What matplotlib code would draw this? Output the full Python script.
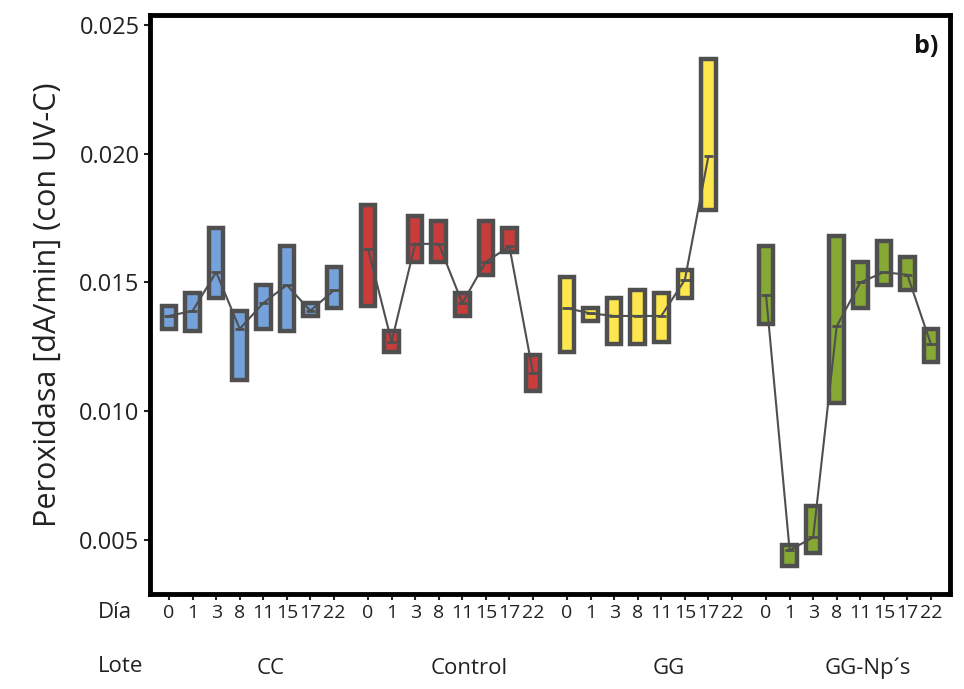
import numpy as np
import matplotlib.pyplot as plt

# Peroxidasa (con UV-C): cajas por lote y día de almacenamiento
dias = ['0', '1', '3', '8', '11', '15', '17', '22']
lotes = ['CC', 'Control', 'GG', 'GG-Np´s']
colores = ['#76a2dc', '#c83c3c', '#fde74c', '#86a834']

cc_q1 = [0.0132, 0.0131, 0.0144, 0.0112, 0.0132, 0.0131, 0.0137, 0.0140]
cc_q3 = [0.0141, 0.0146, 0.0171, 0.0139, 0.0149, 0.0164, 0.0142, 0.0156]
cc_media = [0.0137, 0.0139, 0.0154, 0.0132, 0.0142, 0.0149, 0.0139, 0.0147]

control_q1 = [0.0141, 0.0123, 0.0158, 0.0158, 0.0137, 0.0153, 0.0162, 0.0108]
control_q3 = [0.0180, 0.0131, 0.0176, 0.0174, 0.0146, 0.0174, 0.0171, 0.0122]
control_media = [0.0163, 0.0127, 0.0165, 0.0165, 0.0142, 0.0158, 0.0164, 0.0115]

gg_q1 = [0.0123, 0.0135, 0.0126, 0.0126, 0.0127, 0.0144, 0.0178, np.nan]
gg_q3 = [0.0152, 0.0140, 0.0144, 0.0147, 0.0146, 0.0155, 0.0237, np.nan]
gg_media = [0.0140, 0.0138, 0.0137, 0.0137, 0.0137, 0.0151, 0.0199, np.nan]

np_q1 = [0.0134, 0.0040, 0.0045, 0.0103, 0.0140, 0.0149, 0.0147, 0.0119]
np_q3 = [0.0164, 0.0048, 0.0063, 0.0168, 0.0158, 0.0166, 0.0160, 0.0132]
np_media = [0.0145, 0.0046, 0.0051, 0.0133, 0.0150, 0.0154, 0.0153, 0.0126]

q1s = [cc_q1, control_q1, gg_q1, np_q1]
q3s = [cc_q3, control_q3, gg_q3, np_q3]
medias = [cc_media, control_media, gg_media, np_media]

gris = '#4f4f4f'
texto = '#222222'
fuente = 'Open Sans'
separacion = 0.45

fig = plt.figure(figsize=(9.64, 6.89), dpi=100)
ax = fig.add_axes([150 / 964, 95 / 689, 800 / 964, 579 / 689])

todas_pos = []
for g, lote in enumerate(lotes):
    pos = g * (len(dias) + separacion) + np.arange(len(dias))
    todas_pos.extend(pos)
    q1 = np.array(q1s[g])
    q3 = np.array(q3s[g])
    ax.bar(pos, q3 - q1, bottom=q1, width=0.62, color=colores[g],
           edgecolor=gris, linewidth=3.2, zorder=2)
    ax.hlines(medias[g], pos - 0.2, pos + 0.2, color=gris, lw=2, zorder=3)
    ax.plot(pos, medias[g], color=gris, lw=1.5, zorder=3)

ax.set_xlim(-0.81, 33.16)
ax.set_ylim(0.0029, 0.02539)
ax.set_yticks([0.005, 0.010, 0.015, 0.020, 0.025])
ax.set_yticklabels(['0.005', '0.010', '0.015', '0.020', '0.025'],
                   fontsize=17, family=fuente, color=texto)
ax.set_xticks(todas_pos)
ax.set_xticklabels(dias * len(lotes), fontsize=14, family=fuente, color=texto)
ax.tick_params(axis='both', length=4, width=1.5, color=texto)
ax.tick_params(axis='x', pad=3)

for sp in ax.spines.values():
    sp.set_linewidth(3.5)
    sp.set_color('black')

ax.set_ylabel('Peroxidasa [dA/min] (con UV-C)', fontsize=22,
              family=fuente, color=texto, labelpad=12)

ax.text(0.985, 0.945, 'b)', transform=ax.transAxes, ha='right', va='center',
        fontsize=18, fontweight='bold', family=fuente, color='#111111')

fig.text(98 / 964, 1 - 612 / 689, 'Día', fontsize=16, va='center',
         family=fuente, color=texto)
fig.text(98 / 964, 1 - 667 / 689, 'Lote', fontsize=16, va='center',
         family=fuente, color=texto)
for g, lote in enumerate(lotes):
    xc = g * (len(dias) + separacion) + 4.3
    ax.text(xc, -0.128, lote, transform=ax.get_xaxis_transform(),
            ha='center', va='center', fontsize=16, family=fuente, color=texto)

fig.savefig('out.png', dpi=100)
